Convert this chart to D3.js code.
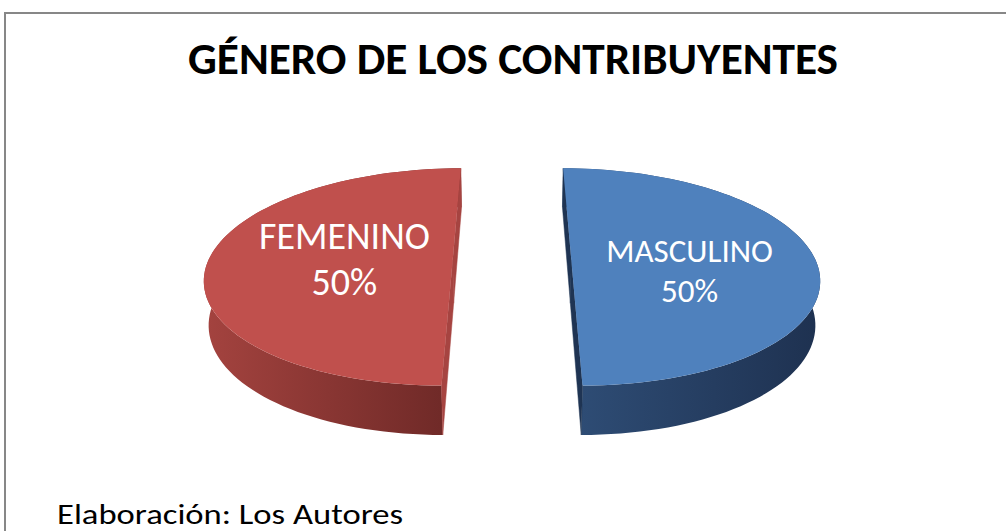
<!DOCTYPE html>
<html>
<head>
<meta charset="utf-8">
<script src="https://cdn.jsdelivr.net/npm/d3@7"></script>
<style>
  body { margin: 0; background: #fff; }
  text { font-family: Carlito, 'Open Sans', sans-serif; }
</style>
</head>
<body>
<div id="vis"></div>
<script>
const FRAME_WIDTH = 1006;
const FRAME_HEIGHT = 531;

// data
const categories = ['MASCULINO', 'FEMENINO'];
const values = [50, 50];
const TITLE = 'GÉNERO DE LOS CONTRIBUYENTES';
const SOURCE = 'Elaboración: Los Autores';

// colours per slice (same order as categories)
const TOP_COLORS = ['#4f81bd', '#c0504d'];
const SIDE_LIGHT = ['#2f4e77', '#a4433f'];
const SIDE_DARK = ['#1e3150', '#6c2826'];
const CUT_COLORS = ['#1f3453', '#a64441'];
const LABEL_SIZE = [33, 38];
const LABEL_NUDGE = [[6, 12], [4, 0]];

// 3d view of the pie
const VIEW = {
	cx: 512, cy: 259.6,
	focal: 1380, dist: 5.53,
	tilt: 25.7 * Math.PI / 180,
	radius: 0.978,
	explode: 0.2375, depth: 0.197
};

const S = Math.sin(VIEW.tilt);
const C = Math.cos(VIEW.tilt);

function project(X, Y, Z) {
	const d = VIEW.dist - S * Y - C * Z;
	return [VIEW.cx + VIEW.focal * X / d,
	        VIEW.cy + VIEW.focal * (S * Z - C * Y) / d];
}

const FRAME =
d3.select('#vis')
	.append('svg')
		.attr('width', FRAME_WIDTH)
		.attr('height', FRAME_HEIGHT);

const defs = FRAME.append('defs');

// chart border (runs off the right and bottom)
FRAME.append('rect')
	.attr('x', 5)
	.attr('y', 13)
	.attr('width', 1100)
	.attr('height', 600)
	.attr('fill', 'none')
	.attr('stroke', '#878787')
	.attr('stroke-width', 2);

// slices: 0 at 12 o'clock, clockwise
const pie = d3.pie().sort(null)(values);

const STEPS = 90;
const line = d3.line();

pie.forEach((p, i) => {
	const mid = (p.startAngle + p.endAngle) / 2;
	const ox = VIEW.explode * Math.sin(mid);
	const oz = -VIEW.explode * Math.cos(mid);
	const H = VIEW.depth;
	const R = VIEW.radius;

	const angles = d3.range(STEPS + 1).map(k =>
		p.startAngle + (p.endAngle - p.startAngle) * k / STEPS);
	const rimTop = angles.map(a => project(ox + R * Math.sin(a), 0, oz - R * Math.cos(a)));
	const rimBot = angles.map(a => project(ox + R * Math.sin(a), -H, oz - R * Math.cos(a)));

	const xs = rimTop.map(d => d[0]);
	const gid = 'side' + i;
	const grad = defs.append('linearGradient')
		.attr('id', gid)
		.attr('gradientUnits', 'userSpaceOnUse')
		.attr('x1', d3.min(xs)).attr('x2', d3.max(xs))
		.attr('y1', 0).attr('y2', 0);
	grad.append('stop').attr('offset', 0).attr('stop-color', SIDE_LIGHT[i]);
	grad.append('stop').attr('offset', 1).attr('stop-color', SIDE_DARK[i]);

	const g = FRAME.append('g');

	// outer wall
	g.append('path')
		.attr('d', line(rimTop.concat(rimBot.slice().reverse())) + 'Z')
		.attr('fill', 'url(#' + gid + ')');

	// cut faces
	[p.startAngle, p.endAngle].forEach(a => {
		const face = [
			project(ox, 0, oz),
			project(ox + R * Math.sin(a), 0, oz - R * Math.cos(a)),
			project(ox + R * Math.sin(a), -H, oz - R * Math.cos(a)),
			project(ox, -H, oz)
		];
		g.append('path')
			.attr('d', line(face) + 'Z')
			.attr('fill', CUT_COLORS[i])
			.attr('stroke', CUT_COLORS[i])
			.attr('stroke-width', 0.5);
	});

	// top surface
	const topPts = [project(ox, 0, oz)].concat(rimTop);
	g.append('path')
		.attr('d', line(topPts) + 'Z')
		.attr('fill', TOP_COLORS[i]);

	// label
	const r = 0.45;
	const [lx0, ly0] = project(ox + r * Math.sin(mid), 0, oz - r * Math.cos(mid));
	const lx = lx0 + LABEL_NUDGE[i][0];
	const ly = ly0 + LABEL_NUDGE[i][1];
	const fs = LABEL_SIZE[i];
	const gap = fs * 1.2;
	const cap = fs * 0.644;
	const base1 = ly - gap / 2 + cap / 2;
	const pct = Math.round(100 * p.value / d3.sum(values)) + '%';
	[categories[i], pct].forEach((t, k) => {
		g.append('text')
			.attr('x', lx)
			.attr('y', base1 + k * gap)
			.attr('text-anchor', 'middle')
			.attr('font-size', fs)
			.attr('fill', '#fff')
			.text(t);
	});
});

// title
FRAME.append('text')
	.attr('x', 513)
	.attr('y', 74)
	.attr('text-anchor', 'middle')
	.attr('font-size', 44)
	.attr('font-weight', 'bold')
	.attr('textLength', 650)
	.attr('lengthAdjust', 'spacingAndGlyphs')
	.attr('fill', '#000')
	.text(TITLE);

// source note
FRAME.append('text')
	.attr('x', 57)
	.attr('y', 524)
	.attr('font-size', 28)
	.attr('textLength', 346)
	.attr('lengthAdjust', 'spacingAndGlyphs')
	.attr('fill', '#000')
	.text(SOURCE);
</script>
</body>
</html>
